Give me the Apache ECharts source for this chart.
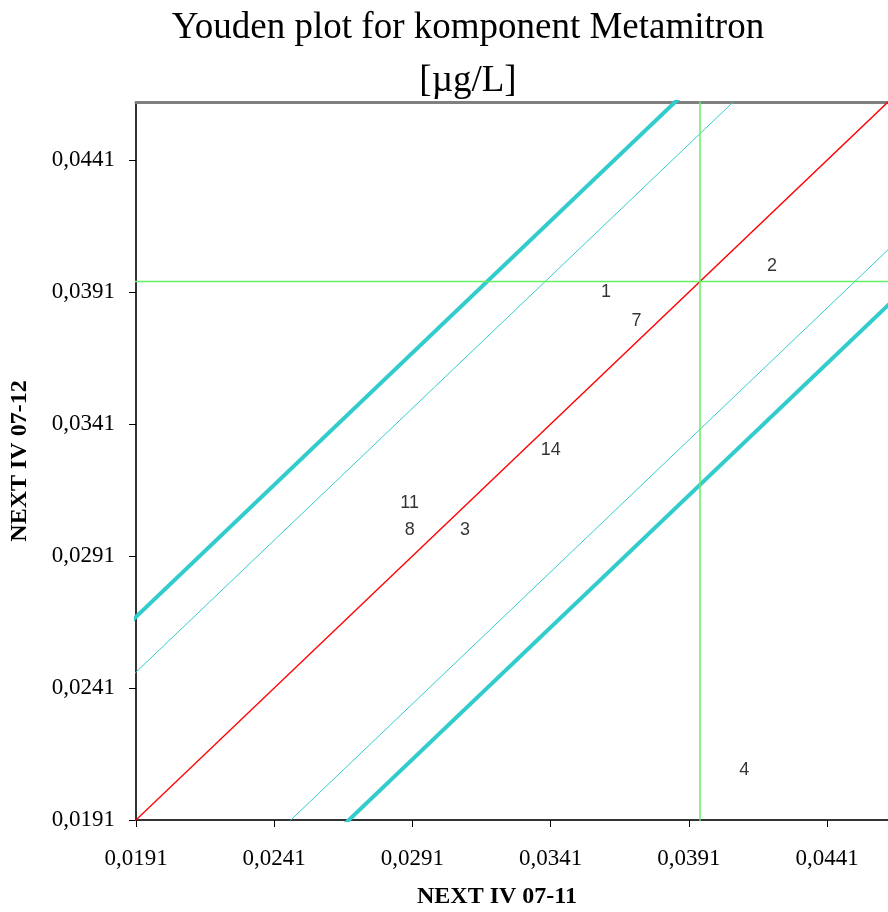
<!DOCTYPE html>
<html>
<head>
<meta charset="utf-8">
<script src="https://cdn.jsdelivr.net/npm/echarts@6/dist/echarts.min.js"></script>
<style>
  html, body { margin: 0; padding: 0; background: #fff; }
  #chart { width: 888px; height: 912px; }
</style>
</head>
<body>
<div id="chart"></div>
<script>
// laboratory results (x = sample 07-11, y = sample 07-12)
var labIds = ["1", "2", "3", "4", "7", "8", "11", "14"];
var xValues = [0.0361, 0.0421, 0.0310, 0.0411, 0.0372, 0.0290, 0.0290, 0.0341];
var yValues = [0.0391, 0.0401, 0.0301, 0.0210, 0.0380, 0.0301, 0.0311, 0.0331];

var axisMin = 0.0191;
var axisMax = 0.0463;
var tickStep = 0.005;

var median = 0.0395;
var innerOffset = 0.0056;
var outerOffset = 0.0077;

// diagonal lines parallel to y = x, shifted by offset
function diagLine(offset) {
  return [[axisMin - 0.01, axisMin - 0.01 + offset], [axisMax + 0.01, axisMax + 0.01 + offset]];
}

var pts = [];
for (var i = 0; i < labIds.length; i++) {
  pts.push({ name: labIds[i], value: [xValues[i], yValues[i]] });
}

function fmt(v) {
  return v.toFixed(4).replace(".", ",");
}

var myChart = echarts.init(document.getElementById("chart"));

var option = {
  animation: false,
  title: {
    text: "Youden plot for komponent Metamitron\n[\u00b5g/L]",
    left: 463,
    textAlign: "center",
    top: -3,
    textStyle: {
      fontFamily: "Liberation Serif",
      fontWeight: "normal",
      fontSize: 37,
      lineHeight: 53,
      color: "#000"
    }
  },
  grid: { left: 136, right: 0, top: 102, bottom: 92, containLabel: false, outerBoundsMode: "none" },
  xAxis: [
    {
      type: "value",
      min: axisMin,
      max: axisMax,
      interval: tickStep,
      name: "NEXT IV 07-11",
      nameLocation: "middle",
      nameGap: 65,
      nameTextStyle: { fontFamily: "Liberation Serif", fontWeight: "bold", fontSize: 24, color: "#000", padding: [0, 30, 0, 0] },
      splitLine: { show: false },
      axisLine: { lineStyle: { color: "#333", width: 2 } },
      axisTick: { length: 7, lineStyle: { color: "#000" } },
      axisLabel: {
        formatter: fmt,
        fontFamily: "Liberation Serif",
        fontSize: 23,
        color: "#000",
        margin: 27,
        showMaxLabel: false
      }
    },
    {
      type: "value",
      position: "top",
      min: axisMin,
      max: axisMax,
      axisLine: { lineStyle: { color: "#808080", width: 3 } },
      axisTick: { show: false },
      axisLabel: { show: false },
      splitLine: { show: false }
    }
  ],
  yAxis: {
    type: "value",
    min: axisMin,
    max: axisMax,
    interval: tickStep,
    name: "NEXT IV 07-12",
    nameLocation: "middle",
    nameGap: 104,
    nameTextStyle: { fontFamily: "Liberation Serif", fontWeight: "bold", fontSize: 24, color: "#000" },
    splitLine: { show: false },
    axisLine: { lineStyle: { color: "#333", width: 2 } },
    axisTick: { length: 7, lineStyle: { color: "#000" } },
    axisLabel: {
      formatter: fmt,
      fontFamily: "Liberation Serif",
      fontSize: 23,
      color: "#000",
      margin: 21,
      showMaxLabel: false
    }
  },
  series: [
    {
      type: "line", clip: true, symbol: "none", silent: true,
      data: diagLine(outerOffset),
      lineStyle: { color: "#33CCCC", width: 4 }
    },
    {
      type: "line", clip: true, symbol: "none", silent: true,
      data: diagLine(-outerOffset),
      lineStyle: { color: "#33CCCC", width: 4 }
    },
    {
      type: "line", clip: true, symbol: "none", silent: true,
      data: diagLine(innerOffset),
      lineStyle: { color: "#33CCCC", width: 1 }
    },
    {
      type: "line", clip: true, symbol: "none", silent: true,
      data: diagLine(-innerOffset),
      lineStyle: { color: "#33CCCC", width: 1 }
    },
    {
      type: "line", clip: true, symbol: "none", silent: true,
      data: diagLine(0),
      lineStyle: { color: "#FF0000", width: 1.3 }
    },
    {
      type: "line", clip: true, symbol: "none", silent: true,
      data: [[median, axisMin - 0.01], [median, axisMax + 0.01]],
      lineStyle: { color: "#66EE66", width: 1.5 }
    },
    {
      type: "line", clip: true, symbol: "none", silent: true,
      data: [[axisMin - 0.01, median], [axisMax + 0.01, median]],
      lineStyle: { color: "#66EE66", width: 1.5 }
    },
    {
      type: "scatter",
      symbolSize: 1,
      itemStyle: { color: "rgba(0,0,0,0)" },
      data: pts,
      label: {
        show: true,
        position: "inside",
        formatter: "{b}",
        fontFamily: "Liberation Sans",
        fontSize: 18,
        color: "#000",
        textBorderWidth: 0
      }
    }
  ]
};
myChart.setOption(option);
</script>
</body>
</html>
